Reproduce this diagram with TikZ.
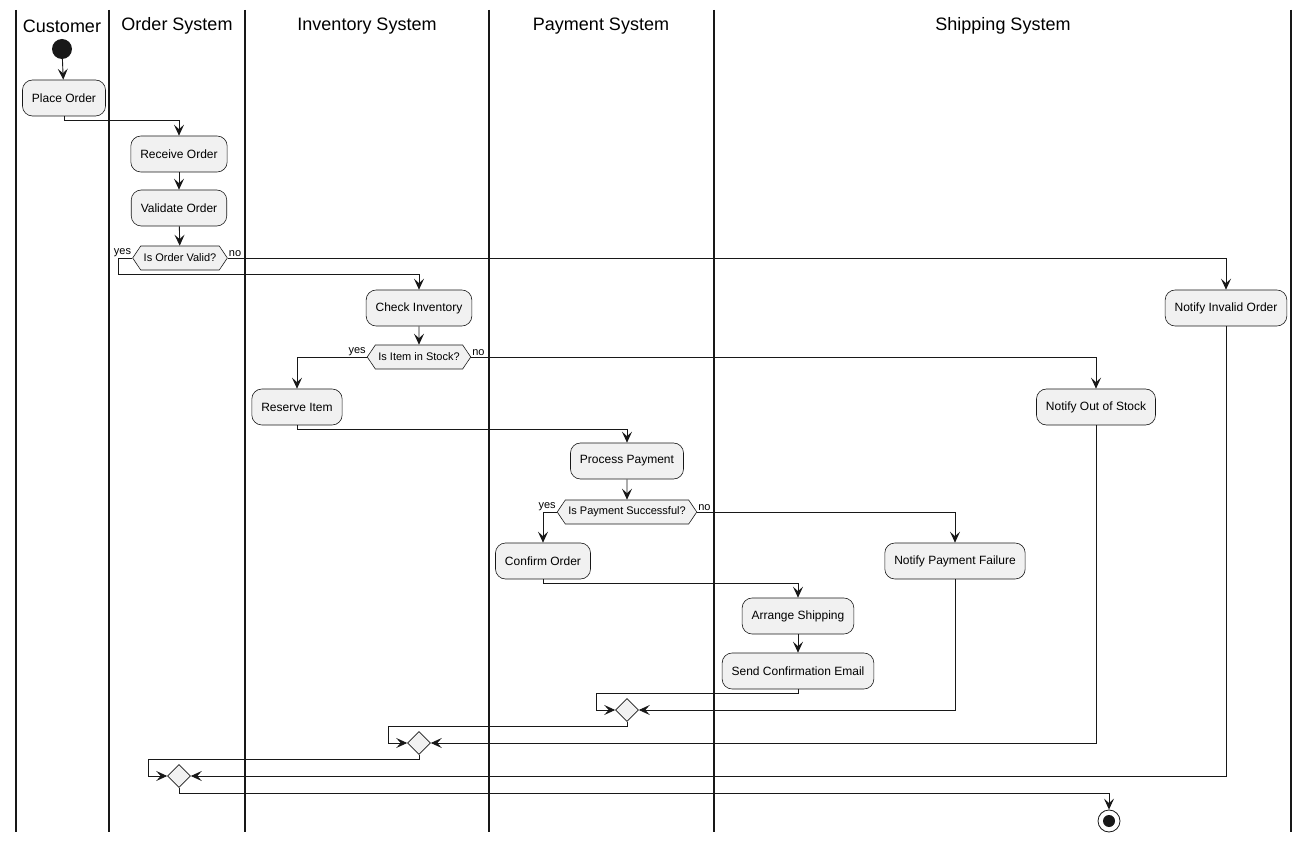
\documentclass[tikz,border=0pt]{standalone}
\usepackage{fontspec}
\setmainfont{Liberation Sans}
\usetikzlibrary{arrows.meta,shapes.symbols,shapes.geometric,calc}
\definecolor{nodefill}{HTML}{F1F1F1}
\definecolor{ink}{HTML}{181818}
\begin{document}
\begin{tikzpicture}[x=1pt,y=-1pt,
 act/.style={draw=ink, fill=nodefill, rounded corners=10pt, minimum height=36pt, inner xsep=9.5pt, font=\fontsize{12}{14}\selectfont, line width=0.6pt},
 dec/.style={shape=signal, signal to=east and west, signal pointer angle=112, draw=ink, fill=nodefill, minimum height=24pt, inner xsep=3pt, font=\fontsize{11}{13}\selectfont, line width=0.6pt},
 mrg/.style={diamond, draw=ink, fill=nodefill, minimum size=23pt, inner sep=0pt, line width=0.6pt},
 lbl/.style={font=\fontsize{11}{13}\selectfont, inner sep=1pt},
 arr/.style={-{Stealth[length=11pt,width=10pt,inset=4.5pt]}, draw=ink, line width=0.9pt},
 lane/.style={line width=1.6pt, draw=ink},
 title/.style={font=\fontsize{18}{22}\selectfont}]
\useasboundingbox (0,0) rectangle (1310,842);
% lanes
\foreach \x in {16,109,245,489,714,1291} \draw[lane] (\x,10) -- (\x,832);
\node[title] (t1) at (62,26) {Customer};
\node[title] (t2) at (177,26) {Order System};
\node[title] (t3) at (367,26) {Inventory System};
\node[title] (t4) at (601,26) {Payment System};
\node[title] (t5) at (1003,26) {Shipping System};
% nodes
\node[circle, fill=ink, minimum size=20pt, inner sep=0pt] (start) at (62,49) {};
\node[act] (po) at (64,98) {Place Order};
\node[act] (ro) at (179,154) {Receive Order};
\node[act] (vo) at (179,208) {Validate Order};
\node[dec] (d1) at (180,258) {Is Order Valid?};
\node[act] (ci) at (419,308) {Check Inventory};
\node[act] (nio) at (1226,308) {Notify Invalid Order};
\node[dec] (d2) at (419,357) {Is Item in Stock?};
\node[act] (ri) at (297,407) {Reserve Item};
\node[act] (nos) at (1096,407) {Notify Out of Stock};
\node[act] (pp) at (627,461) {Process Payment};
\node[dec] (d3) at (627,512) {Is Payment Successful?};
\node[act] (co) at (543,561) {Confirm Order};
\node[act] (npf) at (955,561) {Notify Payment Failure};
\node[act] (as) at (798,616) {Arrange Shipping};
\node[act] (sce) at (798,671) {Send Confirmation Email};
\node[mrg] (m1) at (627,710) {};
\node[mrg] (m2) at (419,743) {};
\node[mrg] (m3) at (179,776) {};
\node[circle, draw=ink, fill=white, line width=0.8pt, minimum size=22pt, inner sep=0pt] (end) at (1109,821) {};
\node[circle, fill=ink, minimum size=12pt, inner sep=0pt] (endin) at (end.center) {};
% labels
\node[lbl, anchor=south east] (y1) at (d1.west) {yes};
\node[lbl, anchor=south west] (n1) at (d1.east) {no};
\node[lbl, anchor=south east] (y2) at (d2.west) {yes};
\node[lbl, anchor=south west] (n2) at (d2.east) {no};
\node[lbl, anchor=south east] (y3) at (d3.west) {yes};
\node[lbl, anchor=south west] (n3) at (d3.east) {no};
% edges
\draw[arr] (start) -- (po);
\draw[arr] (po.south) -- ++(0,4) -| (ro.north);
\draw[arr] (ro) -- (vo);
\draw[arr] (vo) -- (d1);
\draw[arr] (d1.west) -- ++(-14,0) -- ++(0,16) -| (ci.north);
\draw[arr] (d1.east) -| (nio.north);
\draw[arr] (ci) -- (d2);
\draw[arr] (d2.west) -| (ri.north);
\draw[arr] (d2.east) -| (nos.north);
\draw[arr] (ri.south) -- ++(0,4) -| (pp.north);
\draw[arr] (pp) -- (d3);
\draw[arr] (d3.west) -| (co.north);
\draw[arr] (d3.east) -| (npf.north);
\draw[arr] (co.south) -- ++(0,4) -| (as.north);
\draw[arr] (as) -- (sce);
\draw[arr] (sce.south) -- ++(0,4) -| ([xshift=-19pt]m1.west) -- (m1.west);
\draw[arr] (npf.south) |- (m1.east);
\draw[arr] (m1.south) -- ++(0,5) -| ([xshift=-19pt]m2.west) -- (m2.west);
\draw[arr] (nos.south) |- (m2.east);
\draw[arr] (m2.south) -- ++(0,5) -| ([xshift=-19pt]m3.west) -- (m3.west);
\draw[arr] (nio.south) |- (m3.east);
\draw[arr] (m3.south) -- ++(0,6) -| (end.north);
\end{tikzpicture}
\end{document}
